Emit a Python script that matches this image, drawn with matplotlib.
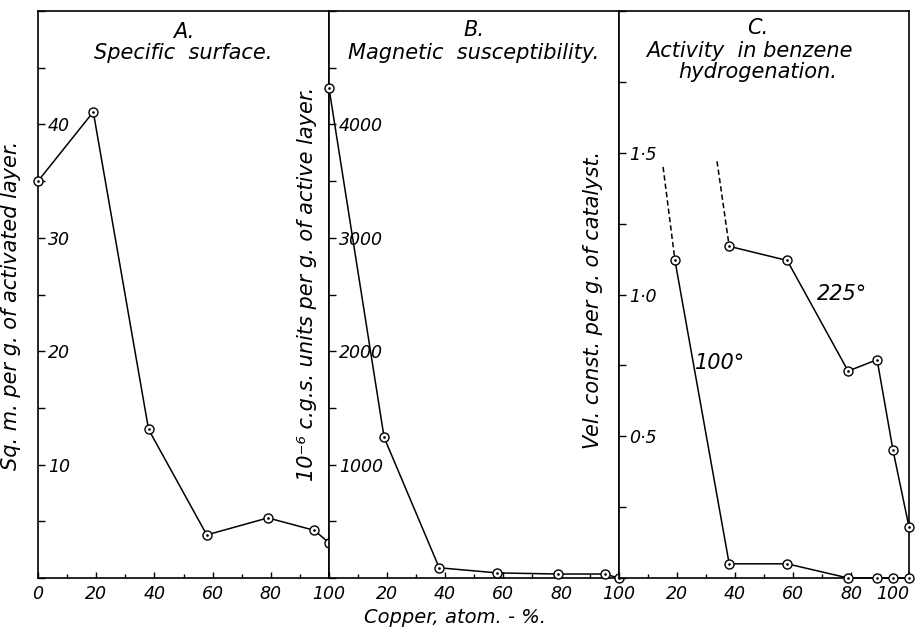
import numpy as np
import matplotlib
matplotlib.use('Agg')
import matplotlib.pyplot as plt
from matplotlib.ticker import MultipleLocator, FuncFormatter

# Panel A: specific surface
cu_a = [0, 19, 38, 58, 79, 95, 100]
surface_a = [35.0, 41.1, 13.1, 3.8, 5.3, 4.2, 3.1]

# Panel B: magnetic susceptibility
cu_b = [0, 19, 38, 58, 79, 95, 100]
susc_b = [4320, 1240, 90, 45, 35, 35, 0]

# Panel C: activity in benzene hydrogenation
cu_c100 = [19.3, 38, 58, 79, 89, 94.5, 100]
act_c100 = [1.12, 0.05, 0.05, 0.0, 0.0, 0.0, 0.0]
cu_c225 = [38, 58, 79, 89, 94.5, 100]
act_c225 = [1.17, 1.12, 0.73, 0.77, 0.45, 0.18]
# dashed extrapolations
ext100_x = [15.2, 19.3]
ext100_y = [1.45, 1.12]
ext225_x = [33.8, 38]
ext225_y = [1.47, 1.17]

plt.rcParams['font.family'] = ['DejaVu Sans']
plt.rcParams['font.style'] = 'italic'

fig = plt.figure(figsize=(9.18, 6.28), dpi=100)
W = 918.0
H = 628.0
bottom = (H - 578) / H
height = (578 - 11) / H
axA = fig.add_axes([38 / W, bottom, 291 / W, height])
axB = fig.add_axes([329 / W, bottom, 290 / W, height])
axC = fig.add_axes([619 / W, bottom, 290 / W, height])

FS = 15   # titles and axis labels
TS = 12.5  # tick labels


def draw(ax, x, y):
    ax.plot(x, y, '-', color='black', lw=1.1, marker='o', ms=6.5,
            mfc='white', mec='black', mew=1.0, clip_on=False, zorder=3)
    ax.plot(x, y, '.', color='black', ms=1.8, clip_on=False, zorder=4)


def style(ax, ymax, ymaj, ymin, ylabfmt, hide_x0):
    ax.set_xlim(0, 100)
    ax.set_ylim(0, ymax)
    for s in ax.spines.values():
        s.set_linewidth(1.2)
    ax.xaxis.set_major_locator(MultipleLocator(20))
    ax.xaxis.set_minor_locator(MultipleLocator(10))
    ax.yaxis.set_major_locator(MultipleLocator(ymaj))
    ax.yaxis.set_minor_locator(MultipleLocator(ymin))
    ax.tick_params(axis='x', which='major', direction='in', length=4,
                   width=1, labelsize=TS, pad=5)
    ax.tick_params(axis='x', which='minor', direction='in', length=3, width=1)
    ax.tick_params(axis='y', which='both', direction='in', length=5,
                   width=1, labelsize=TS, pad=-7)
    ax.xaxis.set_major_formatter(FuncFormatter(
        lambda v, p: '' if (hide_x0 and v == 0) else '%d' % v))
    ax.yaxis.set_major_formatter(FuncFormatter(ylabfmt))
    for lab in ax.get_yticklabels():
        lab.set_horizontalalignment('left')


draw(axA, cu_a, surface_a)
style(axA, 50, 10, 5,
      lambda v, p: '' if v in (0, 50) else '%d' % v, False)
axA.text(0.5, 0.963, 'A.', transform=axA.transAxes, ha='center',
         va='center', fontsize=FS)
axA.text(0.5, 0.926, 'Specific  surface.', transform=axA.transAxes,
         ha='center', va='center', fontsize=FS)
axA.set_ylabel('Sq. m. per g. of activated layer.', fontsize=FS)
axA.yaxis.set_label_coords(-0.06, 0.48)

draw(axB, cu_b, susc_b)
style(axB, 5000, 1000, 500,
      lambda v, p: '' if v in (0, 5000) else '%d' % v, True)
axB.text(0.5, 0.966, 'B.', transform=axB.transAxes, ha='center',
         va='center', fontsize=FS)
axB.text(0.5, 0.926, 'Magnetic  susceptibility.', transform=axB.transAxes,
         ha='center', va='center', fontsize=FS)
axB.set_ylabel('10⁻⁶ c.g.s. units per g. of active layer.', fontsize=FS)
axB.yaxis.set_label_coords(-0.04, 0.518)

draw(axC, cu_c100, act_c100)
draw(axC, cu_c225, act_c225)
axC.plot(ext100_x, ext100_y, '--', color='black', lw=1.1, dashes=(3.5, 2))
axC.plot(ext225_x, ext225_y, '--', color='black', lw=1.1, dashes=(3.5, 2))
style(axC, 2.0, 0.5, 0.25,
      lambda v, p: '' if v in (0, 2.0) else ('%.1f' % v).replace('.', '·'),
      True)
# keep the last x label inside the figure
fig.canvas.draw()
xlabs = axC.get_xticklabels()
for lab in xlabs:
    if lab.get_text() == '100':
        lab.set_horizontalalignment('right')
        lab.set_x(101)
axC.text(0.48, 0.97, 'C.', transform=axC.transAxes, ha='center',
         va='center', fontsize=FS)
axC.text(0.45, 0.929, 'Activity  in benzene', transform=axC.transAxes,
         ha='center', va='center', fontsize=FS)
axC.text(0.48, 0.893, 'hydrogenation.', transform=axC.transAxes,
         ha='center', va='center', fontsize=FS)
axC.text(77, 1.0, '225°', ha='center', va='center', fontsize=FS)
axC.text(35, 0.76, '100°', ha='center', va='center', fontsize=FS)
axC.set_ylabel('Vel. const. per g. of catalyst.', fontsize=FS)
axC.yaxis.set_label_coords(-0.055, 0.49)

fig.text(455 / W, 0.016, 'Copper, atom. - %.', ha='center', va='center',
         fontsize=14)

fig.savefig('out.png', dpi=100)
